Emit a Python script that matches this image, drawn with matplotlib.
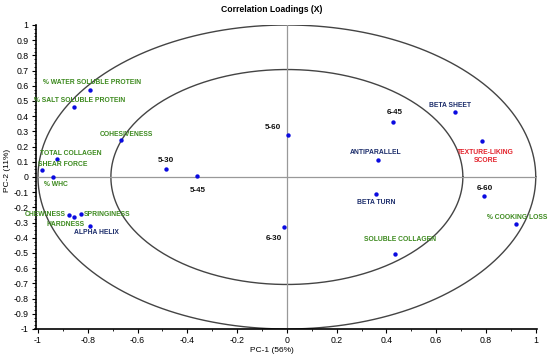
import numpy as np
import matplotlib
matplotlib.use("Agg")
import matplotlib.pyplot as plt
from matplotlib.ticker import MultipleLocator

# loadings
names = ["% WATER SOLUBLE PROTEIN", "% SALT SOLUBLE PROTEIN", "COHESIVENESS",
         "TOTAL COLLAGEN", "SHEAR FORCE", "% WHC", "CHEWINESS", "HARDNESS",
         "SPRINGINESS", "ALPHA HELIX", "SOLUBLE COLLAGEN", "% COOKING LOSS",
         "BETA SHEET", "TEXTURE-LIKING\nSCORE", "ANTIPARALLEL", "BETA TURN",
         "5-30", "5-45", "5-60", "6-30", "6-45", "6-60"]
pc1 = [-0.79, -0.855, -0.668, -0.925, -0.985, -0.939, -0.876, -0.857,
       -0.826, -0.79, 0.435, 0.921, 0.675, 0.784, 0.368, 0.359,
       -0.485, -0.36, 0.004, -0.01, 0.426, 0.793]
pc2 = [0.573, 0.458, 0.241, 0.119, 0.044, -0.003, -0.25, -0.265,
       -0.245, -0.321, -0.504, -0.312, 0.425, 0.239, 0.110, -0.113,
       0.055, 0.004, 0.274, -0.328, 0.365, -0.126]
groups = ["attr"] * 9 + ["protein", "attr", "attr",
          "protein", "liking", "protein", "protein"] + ["sample"] * 6

# label offsets from the point, in pixels
offsets = [(1.5, 7.3), (5.5, 6.6), (6.3, 6), (14, 5.3), (20.8, 5.4), (2.7, -6.6),
           (-23.3, 0), (-8, -7.4), (25.5, 0), (6.2, -6.6), (5, 14), (1.2, 6.6),
           (-4.7, 6.6), (3.5, -15.9), (-2.5, 7.4), (0, -8.4),
           (0, 8), (0, -14), (-14.8, 8.3), (-11, -12), (2.2, 9), (0.3, 7.6)]
colors = {"attr": "#3d8a1f", "protein": "#1c2d6b", "liking": "#e3222b", "sample": "#111111"}
sizes = {"attr": 4.9, "protein": 4.9, "liking": 4.9, "sample": 5.8}

plt.rcParams["font.family"] = ["Liberation Sans", "DejaVu Sans"]

fig = plt.figure(figsize=(5.5, 3.59), dpi=100)
ax = fig.add_axes([35.5 / 550, 1 - 329 / 359, (537 - 35.5) / 550, (329 - 25) / 359])

# correlation circles for 100% and 50% explained variance
t = np.linspace(0, 2 * np.pi, 400)
for r in (1.0, np.sqrt(0.5)):
    ax.plot(r * np.cos(t), r * np.sin(t), color="#444444", lw=1.0, zorder=1)
ax.plot([-1, 1], [0, 0], color="#999999", lw=0.9, zorder=1)
ax.plot([0, 0], [-1, 1], color="#999999", lw=0.9, zorder=1)

ax.scatter(pc1, pc2, s=10, color="#0a0ae0", zorder=3, linewidths=0)
for n, x, y, g, off in zip(names, pc1, pc2, groups, offsets):
    ax.annotate(n, (x, y), xytext=off, textcoords="offset pixels",
                ha="center", va="center", fontsize=sizes[g], fontweight="bold",
                color=colors[g], linespacing=1.1, zorder=4)

ax.set_xlim(-1.01, 1.005)
ax.set_ylim(-1.0, 1.0)
ax.xaxis.set_major_locator(MultipleLocator(0.2))
ax.xaxis.set_minor_locator(MultipleLocator(0.1))
ax.yaxis.set_major_locator(MultipleLocator(0.1))
ax.yaxis.set_minor_locator(MultipleLocator(0.025))
fmt = plt.FuncFormatter(lambda v, p: f"{v:g}" if abs(v) > 1e-9 else "0")
ax.xaxis.set_major_formatter(fmt)
ax.yaxis.set_major_formatter(fmt)
ax.tick_params(which="major", labelsize=6.3, length=3, width=0.8, pad=2)
ax.tick_params(which="minor", length=1.5, width=0.6)
for s in ("top", "right"):
    ax.spines[s].set_visible(False)
for s in ("left", "bottom"):
    ax.spines[s].set_linewidth(1.2)
ax.patch.set_alpha(0)

fig.text(272 / 550, 1 - 9 / 359, "Correlation Loadings (X)", ha="center", va="center",
         fontsize=6.2, fontweight="bold")
fig.text(272 / 550, 1 - 351 / 359, "PC-1 (56%)", ha="center", va="center", fontsize=6)
fig.text(8 / 550, 1 - 170.5 / 359, "PC-2 (11%)", ha="center", va="center",
         fontsize=6, rotation=90)

fig.savefig("out.png", dpi=100)
